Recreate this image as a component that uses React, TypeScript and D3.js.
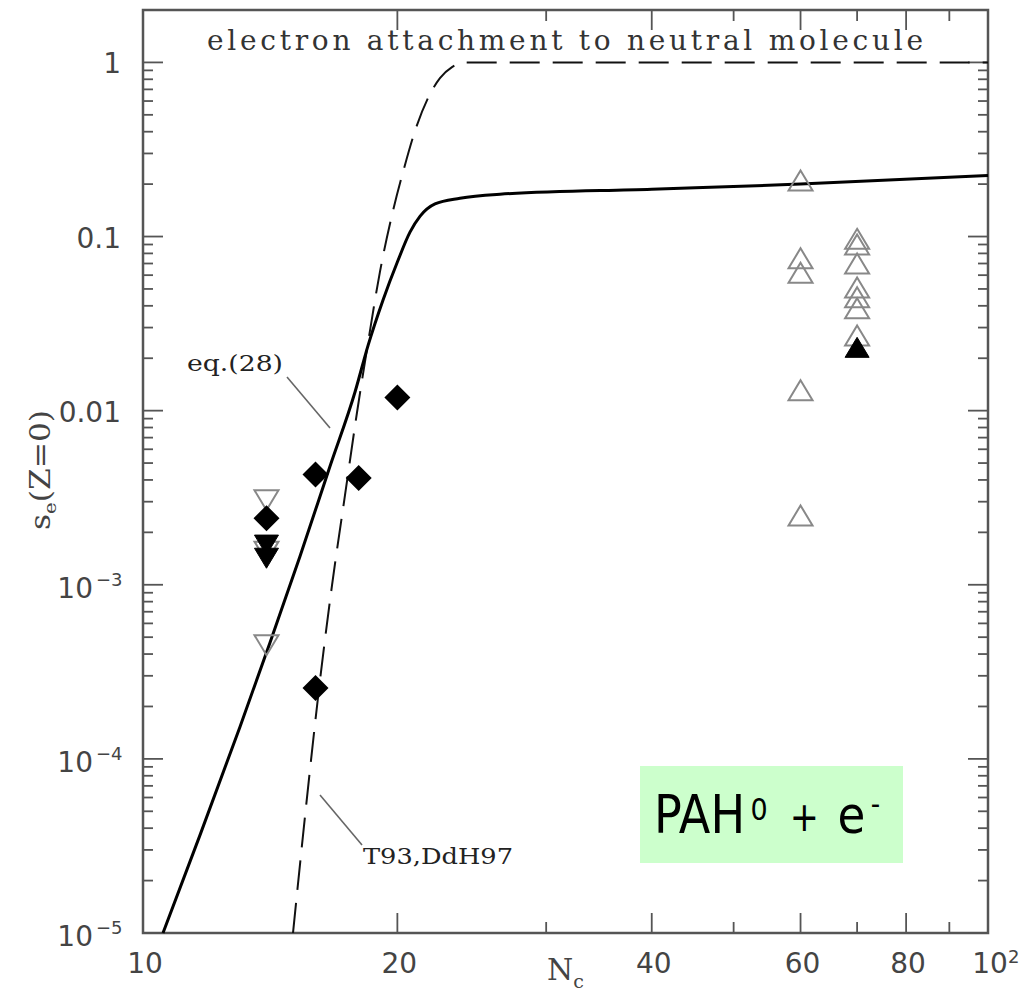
import React from "react";
import * as d3 from "d3";

// Curves: [N_C, s_e(Z=0)]
const eq28Curve: [number, number][] = [
  [10.56, 1e-5], [11.68, 3.65e-5], [13.02, 1.52e-4], [14.13, 4.63e-4],
  [15.34, 1.46e-3], [16.65, 4.81e-3], [17.82, 0.0128], [18.47, 0.0238],
  [19.23, 0.0431], [20, 0.0714], [20.7, 0.106], [21.28, 0.131],
  [22.16, 0.154], [23.72, 0.166], [26.45, 0.175], [40, 0.187],
  [60, 0.2], [100, 0.224],
];
const t93Curve: [number, number][] = [
  [15.05, 1e-5], [15.38, 2.81e-5], [15.76, 8.63e-5], [16.2, 2.84e-4],
  [16.74, 9.98e-4], [17.34, 3.27e-3], [17.92, 9.82e-3], [18.47, 0.0248],
  [19.07, 0.0625], [19.71, 0.133], [20.37, 0.247], [21.04, 0.42],
  [21.74, 0.624], [22.46, 0.813], [23.21, 0.94], [24.05, 1], [100, 1],
];

// Measurements
const filledDiamonds: [number, number][] = [
  [14, 2.41e-3], [16, 4.3e-3], [16, 2.55e-4], [18, 4.1e-3], [20, 0.0119],
];
const openDownTriangles: [number, number][] = [
  [14, 3.06e-3], [14, 1.55e-3], [14, 4.5e-4],
];
const filledDownTriangles: [number, number][] = [
  [14, 1.69e-3], [14, 1.42e-3],
];
const openUpTriangles: [number, number][] = [
  [60, 0.21], [60, 0.075], [60, 0.062], [60, 0.0131], [60, 2.5e-3],
  [70, 0.097], [70, 0.09], [70, 0.07], [70, 0.051], [70, 0.0448],
  [70, 0.0387], [70, 0.027],
];
const filledUpTriangles: [number, number][] = [[70, 0.0231]];

// Axis ticks and labels
const xMinorTicks = [30, 50, 70, 90];
const xMajorTicks = [20, 40, 60, 80];
const xTickLabels: { v: number; base: string; sup?: string }[] = [
  { v: 10, base: "10" }, { v: 20, base: "20" }, { v: 40, base: "40" },
  { v: 60, base: "60" }, { v: 80, base: "80" }, { v: 100, base: "10", sup: "2" },
];
const yDecades = [-5, -4, -3, -2, -1, 0];
const yTickLabels: { v: number; base: string; sup?: string }[] = [
  { v: 1, base: "1" }, { v: 0.1, base: "0.1" }, { v: 0.01, base: "0.01" },
  { v: 1e-3, base: "10", sup: "−3" }, { v: 1e-4, base: "10", sup: "−4" },
  { v: 1e-5, base: "10", sup: "−5" },
];

const W = 1028;
const H = 991;
const left = 143, right = 988, top = 10, bottom = 933;

export default function App() {
  const x = d3.scaleLog().domain([10, 100]).range([left, right]);
  const y = d3.scaleLog().domain([1e-5, 2]).range([bottom, top]);

  const line = d3
    .line<[number, number]>()
    .x((d) => x(d[0]))
    .y((d) => y(d[1]))
    .curve(d3.curveMonotoneX);

  const axisColor = "#555";
  const labelColor = "#444";
  const tickFont = "DejaVu Sans";
  const serif = "DejaVu Serif";

  const yTicks: { v: number; major: boolean }[] = [];
  yDecades.forEach((d) => {
    for (let k = 1; k <= 9; k++) {
      const v = k * Math.pow(10, d);
      if (v <= 2) yTicks.push({ v, major: k === 1 });
    }
  });
  const xTicks = [
    ...xMajorTicks.map((v) => ({ v, major: true })),
    ...xMinorTicks.map((v) => ({ v, major: false })),
  ];

  const diamond = (cx: number, cy: number) => {
    const r = 13;
    return `M${cx},${cy - r}L${cx + r},${cy}L${cx},${cy + r}L${cx - r},${cy}Z`;
  };
  const triUp = (cx: number, cy: number) => {
    const w = 24, h = 20;
    return `M${cx},${cy - h / 2}L${cx + w / 2},${cy + h / 2}L${cx - w / 2},${cy + h / 2}Z`;
  };
  const triDown = (cx: number, cy: number) => {
    const w = 24, h = 20;
    return `M${cx},${cy + h / 2}L${cx + w / 2},${cy - h / 2}L${cx - w / 2},${cy - h / 2}Z`;
  };

  return (
    <svg
      width={W}
      height={H}
      style={{ position: "absolute", left: 0, top: 0, background: "#fff" }}
    >
      <rect x={0} y={0} width={W} height={H} fill="#fff" />

      {/* frame */}
      <rect
        x={left}
        y={top}
        width={right - left}
        height={bottom - top}
        fill="none"
        stroke={axisColor}
        strokeWidth={2.5}
      />

      {/* x ticks, bottom and top */}
      {xTicks.map((t, i) => {
        const len = t.major ? 20 : 11;
        return (
          <g key={"xt" + i} stroke={axisColor} strokeWidth={1.8}>
            <line x1={x(t.v)} x2={x(t.v)} y1={bottom} y2={bottom - len} />
            <line x1={x(t.v)} x2={x(t.v)} y1={top} y2={top + len} />
          </g>
        );
      })}

      {/* y ticks, left and right */}
      {yTicks.map((t, i) => {
        const len = t.major ? 20 : 10;
        return (
          <g key={"yt" + i} stroke={axisColor} strokeWidth={1.8}>
            <line x1={left} x2={left + len} y1={y(t.v)} y2={y(t.v)} />
            <line x1={right} x2={right - len} y1={y(t.v)} y2={y(t.v)} />
          </g>
        );
      })}

      {/* x tick labels */}
      {xTickLabels.map((t, i) => (
        <g key={"xl" + i} fill={labelColor} fontFamily={tickFont}>
          <text x={x(t.v) + 2} y={973} fontSize={28} textAnchor="middle">
            {t.base}
          </text>
          {t.sup && (
            <text x={x(t.v) + 20} y={963} fontSize={18}>
              {t.sup}
            </text>
          )}
        </g>
      ))}

      {/* y tick labels */}
      {yTickLabels.map((t, i) =>
        t.sup ? (
          <g key={"yl" + i} fill={labelColor} fontFamily={tickFont}>
            <text x={93} y={y(t.v) + 13} fontSize={28} textAnchor="end">
              {t.base}
            </text>
            <text x={96} y={y(t.v) + 1} fontSize={18}>
              {t.sup}
            </text>
          </g>
        ) : (
          <text
            key={"yl" + i}
            x={121}
            y={y(t.v) + 11}
            fontSize={28}
            textAnchor="end"
            fill={labelColor}
            fontFamily={tickFont}
          >
            {t.base}
          </text>
        )
      )}

      {/* axis titles */}
      <text x={547} y={980} fontFamily={serif} fontSize={30} fill={labelColor}>
        N
        <tspan fontSize={19} dy={8}>
          c
        </tspan>
      </text>
      <text
        transform="translate(50,470) rotate(-90)"
        textAnchor="middle"
        fontFamily={serif}
        fontSize={27}
        fill={labelColor}
        textLength={120}
        lengthAdjust="spacingAndGlyphs"
      >
        s
        <tspan fontSize={17} dy={6}>
          e
        </tspan>
        <tspan dy={-6}>(Z=0)</tspan>
      </text>

      {/* panel title */}
      <text
        x={207}
        y={50}
        fontFamily={serif}
        fontSize={28}
        fill="#333"
        textLength={716}
        lengthAdjust="spacing"
      >
        electron attachment to neutral molecule
      </text>

      {/* curves */}
      <path
        d={line(t93Curve) || ""}
        fill="none"
        stroke="#111"
        strokeWidth={2}
        strokeDasharray="30,13"
      />
      <path d={line(eq28Curve) || ""} fill="none" stroke="#000" strokeWidth={3} />

      {/* curve annotations */}
      <text x={187} y={371} fontFamily={serif} fontSize={23} fill="#222" textLength={96} lengthAdjust="spacingAndGlyphs">
        eq.(28)
      </text>
      <line x1={287} y1={377} x2={330} y2={428} stroke="#666" strokeWidth={1.6} />
      <text x={363} y={864} fontFamily={serif} fontSize={23} fill="#222" textLength={150} lengthAdjust="spacingAndGlyphs">
        T93,DdH97
      </text>
      <line x1={320} y1={795} x2={362} y2={845} stroke="#666" strokeWidth={1.6} />

      {/* markers */}
      {openUpTriangles.map((d, i) => (
        <path key={"ou" + i} d={triUp(x(d[0]), y(d[1]))} fill="none" stroke="#888" strokeWidth={2} />
      ))}
      {filledUpTriangles.map((d, i) => (
        <path key={"fu" + i} d={triUp(x(d[0]), y(d[1]))} fill="#000" stroke="#000" strokeWidth={1} />
      ))}
      {openDownTriangles.map((d, i) => (
        <path key={"od" + i} d={triDown(x(d[0]), y(d[1]))} fill="none" stroke="#888" strokeWidth={2} />
      ))}
      {filledDownTriangles.map((d, i) => (
        <path key={"fd" + i} d={triDown(x(d[0]), y(d[1]))} fill="#000" stroke="#000" strokeWidth={1} />
      ))}
      {filledDiamonds.map((d, i) => (
        <path key={"dm" + i} d={diamond(x(d[0]), y(d[1]))} fill="#000" />
      ))}

      {/* reaction label */}
      <rect x={640} y={766} width={263} height={97} fill="#ccffcc" />
      <text
        transform="translate(654,833) scale(0.87,1)"
        fontFamily="DejaVu Sans"
        fill="#000"
        fontSize={53}
      >
        <tspan x={0} y={0}>PAH</tspan>
        <tspan x={111} y={-13} fontSize={31}>0</tspan>
        <tspan x={156} y={-2} fontSize={40}>+</tspan>
        <tspan x={211} y={0} fontSize={52}>e</tspan>
        <tspan x={249} y={-19} fontSize={30}>-</tspan>
      </text>
    </svg>
  );
}
